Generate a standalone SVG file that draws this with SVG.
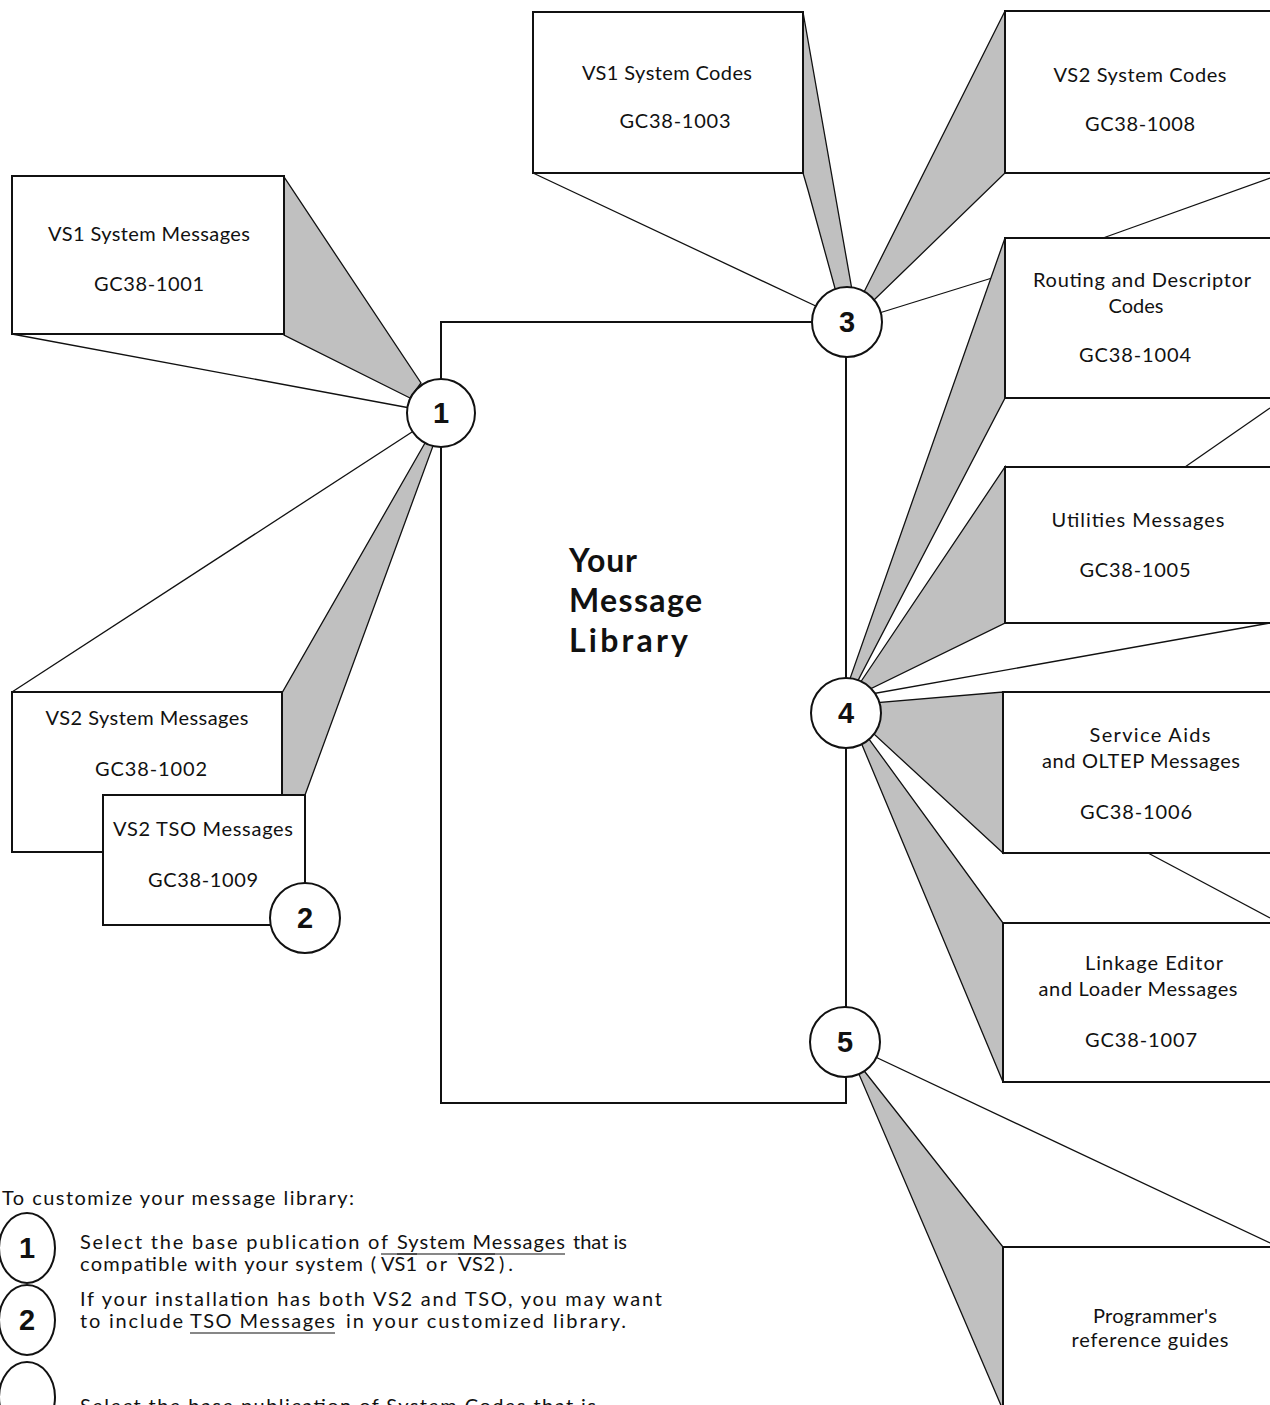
<svg xmlns="http://www.w3.org/2000/svg" width="1270" height="1405" viewBox="0 0 1270 1405">
<style>
.box{fill:#fff;stroke:#111;stroke-width:2}
.wedge{fill:#c0c0c0;stroke:#111;stroke-width:1.3;stroke-linejoin:miter}
.ln{fill:none;stroke:#111;stroke-width:1.3}
.uline{fill:none;stroke:#111;stroke-width:1.2}
.circ{fill:#fff;stroke:#111;stroke-width:2}
.lbl{font-family:Lato,"Liberation Sans",sans-serif;font-size:20px;fill:#111;text-anchor:middle}
.num{font-family:"Liberation Sans",Arial,sans-serif;font-size:29px;font-weight:bold;fill:#111;text-anchor:middle}
.title{font-family:Lato,"Liberation Sans",sans-serif;font-size:32px;font-weight:bold;fill:#111}
.leg{font-family:Lato,"Liberation Sans",sans-serif;font-size:20px;fill:#111}
</style>
<rect width="1270" height="1405" fill="#fff"/>

<g id="connectors">
<polygon class="wedge" points="284,177 284,335 410,398 421,383"/>
<polygon class="wedge" points="282,693 282,795 305,795 433,446 425,443"/>
<line class="ln" x1="12" y1="334" x2="410" y2="408"/>
<line class="ln" x1="12" y1="692" x2="412" y2="432"/>
<polygon class="wedge" points="803,12 803,173 808,190 836,292 852,290"/>
<line class="ln" x1="533" y1="173" x2="820" y2="308"/>
<polygon class="wedge" points="1005,11 1005,173 874,300 862,296"/>
<line class="ln" x1="1270" y1="178" x2="1103" y2="238"/>
<line class="ln" x1="876" y1="314" x2="992" y2="278"/>
<polygon class="wedge" points="1005,238 1005,398 853,690 846,690"/>
<polygon class="wedge" points="1005,467 1005,623 866,691 858,686"/>
<line class="ln" x1="1185" y1="467" x2="1270" y2="408"/>
<line class="ln" x1="1270" y1="623" x2="860" y2="696"/>
<polygon class="wedge" points="1003,692 1003,853 862,723 860,704"/>
<line class="ln" x1="1148" y1="853" x2="1270" y2="918"/>
<polygon class="wedge" points="1003,923 1003,1082 855,728 858,724"/>
<polygon class="wedge" points="1003,1247 1003,1410 852,1058 854,1058"/>
<line class="ln" x1="1270" y1="1243" x2="850" y2="1045"/>
</g>

<g id="library">
<rect class="box" x="441" y="322" width="405" height="781"/>
<text class="title" x="569" y="572" textLength="68">Your</text>
<text class="title" x="569" y="612" textLength="133">Message</text>
<text class="title" x="569" y="652" textLength="119">Library</text>
</g>

<g id="vs1-msgs">
<rect class="box" x="12" y="176" width="272" height="158"/>
<text class="lbl" x="149" y="241" textLength="202">VS1 System Messages</text>
<text class="lbl" x="149" y="291" textLength="110">GC38-1001</text>
</g>
<g id="vs2-msgs">
<rect class="box" x="12" y="692" width="270" height="160"/>
<text class="lbl" x="147" y="725" textLength="203">VS2 System Messages</text>
<text class="lbl" x="151" y="776" textLength="112">GC38-1002</text>
</g>
<g id="tso-msgs">
<rect class="box" x="103" y="795" width="202" height="130"/>
<text class="lbl" x="203" y="836" textLength="180">VS2 TSO Messages</text>
<text class="lbl" x="203" y="887" textLength="110">GC38-1009</text>
</g>
<g id="vs1-codes">
<rect class="box" x="533" y="12" width="270" height="161"/>
<text class="lbl" x="667" y="80" textLength="170">VS1 System Codes</text>
<text class="lbl" x="675" y="128" textLength="111">GC38-1003</text>
</g>
<g id="vs2-codes">
<rect class="box" x="1005" y="11" width="300" height="162"/>
<text class="lbl" x="1140" y="82" textLength="173">VS2 System Codes</text>
<text class="lbl" x="1140" y="131" textLength="110">GC38-1008</text>
</g>
<g id="routing">
<rect class="box" x="1005" y="238" width="300" height="160"/>
<text class="lbl" x="1142" y="287" textLength="218">Routing and Descriptor</text>
<text class="lbl" x="1136" y="313" textLength="55">Codes</text>
<text class="lbl" x="1135" y="362" textLength="112">GC38-1004</text>
</g>
<g id="utilities">
<rect class="box" x="1005" y="467" width="300" height="156"/>
<text class="lbl" x="1138" y="527" textLength="173">Utilities Messages</text>
<text class="lbl" x="1135" y="577" textLength="111">GC38-1005</text>
</g>
<g id="service-aids">
<rect class="box" x="1003" y="692" width="300" height="161"/>
<text class="lbl" x="1150" y="742" textLength="121">Service Aids</text>
<text class="lbl" x="1141" y="768" textLength="198">and OLTEP Messages</text>
<text class="lbl" x="1136" y="819" textLength="112">GC38-1006</text>
</g>
<g id="linkage">
<rect class="box" x="1003" y="923" width="300" height="159"/>
<text class="lbl" x="1154" y="970" textLength="138">Linkage Editor</text>
<text class="lbl" x="1138" y="996" textLength="199">and Loader Messages</text>
<text class="lbl" x="1141" y="1047" textLength="112">GC38-1007</text>
</g>
<g id="programmers">
<rect class="box" x="1003" y="1247" width="300" height="200"/>
<text class="lbl" x="1155" y="1323" textLength="124">Programmer's</text>
<text class="lbl" x="1150" y="1347" textLength="157">reference guides</text>
</g>

<g id="c1"><circle class="circ" cx="441" cy="413" r="34"/><text class="num" x="441" y="423">1</text></g>
<g id="c2"><circle class="circ" cx="305" cy="918" r="35"/><text class="num" x="305" y="928">2</text></g>
<g id="c3"><circle class="circ" cx="847" cy="322" r="35"/><text class="num" x="847" y="332">3</text></g>
<g id="c4"><circle class="circ" cx="846" cy="713" r="35"/><text class="num" x="846" y="723">4</text></g>
<g id="c5"><circle class="circ" cx="845" cy="1042" r="35"/><text class="num" x="845" y="1052">5</text></g>

<g id="legend">
<text class="leg" x="2" y="1205" textLength="352">To customize your message library:</text>
<ellipse class="circ" cx="27" cy="1248" rx="28" ry="35"/>
<text class="num" x="27" y="1258">1</text>
<text class="leg" x="80" y="1249" textLength="308">Select the base publication of</text>
<text class="leg" x="397" y="1249" textLength="168">System Messages</text>
<text class="leg" x="573" y="1249" textLength="54">that is</text>
<line class="uline" x1="397" y1="1254" x2="565" y2="1254"/>
<text class="leg" x="80" y="1271" textLength="296">compatible with your system (</text>
<text class="leg" x="381" y="1271" textLength="36">VS1</text>
<text class="leg" x="426" y="1271" textLength="21">or</text>
<text class="leg" x="458" y="1271" textLength="37">VS2</text>
<text class="leg" x="499" y="1271" textLength="14">).</text>
<line class="uline" x1="381" y1="1254" x2="417" y2="1254"/>
<line class="uline" x1="458" y1="1254" x2="495" y2="1254"/>
<ellipse class="circ" cx="27" cy="1320" rx="28" ry="35"/>
<text class="num" x="27" y="1330">2</text>
<text class="leg" x="80" y="1306" textLength="582">If your installation has both VS2 and TSO, you may want</text>
<text class="leg" x="80" y="1328" textLength="103">to include</text>
<text class="leg" x="190" y="1328" textLength="145">TSO Messages</text>
<text class="leg" x="346" y="1328" textLength="280">in your customized library.</text>
<line class="uline" x1="190" y1="1333" x2="335" y2="1333"/>
<ellipse class="circ" cx="27" cy="1397" rx="28" ry="35"/>
<text class="leg" x="80" y="1413" textLength="516">Select the base publication of System Codes that is</text>
</g>
</svg>
